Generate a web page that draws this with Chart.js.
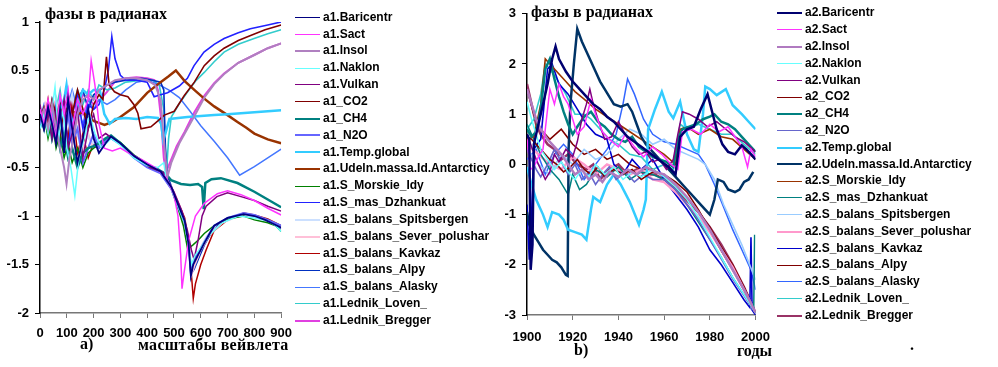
<!DOCTYPE html>
<html>
<head>
<meta charset="utf-8">
<script src="https://cdn.jsdelivr.net/npm/chart.js@4.4.0/dist/chart.umd.min.js"></script>
<style>
body{margin:0;width:998px;height:367px;background:#fff;position:relative;overflow:hidden}
canvas{position:absolute;top:0}
.t{position:absolute;font:bold 16px "Liberation Serif",serif;white-space:nowrap;line-height:16px;color:#000}
.lg{position:absolute;top:0;font:bold 12px "Liberation Sans",Arial,sans-serif;color:#000}
.lg div{position:absolute;left:0;height:14px;line-height:14px;white-space:nowrap}
.lg i{display:inline-block;width:25px;vertical-align:middle;margin-right:3px}
</style>
</head>
<body>
<canvas id="left" width="300" height="367" style="left:0"></canvas>
<canvas id="right" width="290" height="367" style="left:490px"></canvas>
<div class="t" style="left:45px;top:6px">фазы в радианах</div>
<div class="t" style="left:531px;top:4px">фазы в радианах</div>
<div class="t" style="left:80px;top:336px">a)</div>
<div class="t" style="left:138px;top:337px;letter-spacing:0.3px">масштабы вейвлета</div>
<div class="t" style="left:574px;top:342px">b)</div>
<div class="t" style="left:737px;top:343px">годы</div>
<div class="t" style="left:910px;top:337px">.</div>
<div class="lg" id="legL" style="left:295px"></div>
<div class="lg" id="legR" style="left:777px"></div>
<script>
// ---------- left panel: phases vs wavelet scale ----------
var a1Names = ['a1.Baricentr','a1.Sact','a1.Insol','a1.Naklon','a1.Vulkan','a1_CO2','a1_CH4','a1_N2O',
  'a1.Temp.global','a1.Udeln.massa.Id.Antarcticy','a1.S_Morskie_Idy','a1.S_mas_Dzhankuat',
  'a1.S_balans_Spitsbergen','a1.S_balans_Sever_polushar','a1.S_balans_Kavkaz','a1.S_balans_Alpy',
  'a1.S_balans_Alasky','a1.Lednik_Loven_','a1.Lednik_Bregger'];
var a1Colors = ['#000080','#ff33ff','#b080c0','#66ffff','#800080','#800000','#008080','#6666ff',
  '#33ccff','#993300','#008000','#2222ff','#cce0ff','#ffc0d8','#b00000','#0030c0','#4477ff','#33cccc','#e040e0'];
var a1Widths = [1.8,1.5,2,1.5,1.5,1.6,2.5,2,2.5,2.5,1.5,1.6,2,2,1.5,1.6,1.5,1.6,2];

var a1Baricentr = [[0,0.05],[15,-0.1],[30,0.12],[45,-0.05],[60,-0.25],[75,0.1],[90,-0.35],[105,0.2],[120,-0.1],[140,-0.45],[160,-0.2],[180,0.1],[200,-0.2],[220,-0.35],[245,-0.25],[265,-0.18],[300,-0.25],[350,-0.38],[400,-0.47],[450,-0.54],[490,-0.7],[515,-0.88],[540,-1.05],[555,-1.3],[563,-1.62],[572,-1.5],[590,-1.4],[613,-1.28],[650,-1.1],[700,-1.02],[760,-0.98],[800,-1.0],[840,-1.04],[870,-1.08],[900,-1.12]];
var a1Sact = [[0,0.1],[15,-0.05],[30,0.2],[45,0.0],[60,-0.2],[75,0.25],[90,0.05],[105,0.3],[120,-0.1],[140,0.2],[160,0.05],[180,0.2],[191,0.6],[205,0.35],[220,-0.05],[240,-0.3],[270,-0.33],[300,-0.3],[330,-0.35],[380,-0.42],[430,-0.5],[470,-0.6],[500,-0.78],[515,-1.0],[525,-1.4],[530,-1.75],[537,-1.6],[555,-1.25],[580,-1.0],[613,-0.87],[662,-0.77],[700,-0.74],[750,-0.78],[800,-0.84],[850,-0.92],[900,-0.99]];
var a1Insol = [[0,0.0],[15,0.1],[30,-0.1],[45,0.15],[60,-0.1],[75,-0.3],[90,-0.5],[99,-0.67],[110,-0.4],[125,-0.2],[140,0.05],[160,0.2],[180,0.25],[200,0.2],[220,0.3],[250,0.35],[280,0.4],[320,0.42],[360,0.42],[400,0.4],[430,0.35],[450,0.2],[465,-0.3],[475,-0.6],[490,-0.45],[520,-0.25],[550,-0.1],[580,0.05],[613,0.22],[650,0.36],[690,0.47],[740,0.58],[800,0.66],[850,0.73],[900,0.78]];
var a1Naklon = [[0,-0.1],[15,0.05],[30,-0.15],[45,0.1],[56,0.33],[70,-0.2],[85,0.1],[100,-0.3],[115,-0.5],[130,-0.79],[145,-0.4],[165,-0.2],[185,0.05],[205,-0.15],[230,-0.3],[265,-0.2],[300,-0.27],[350,-0.4],[400,-0.48],[440,-0.5],[462,-0.45],[470,-0.6],[490,-0.72],[515,-0.9],[540,-1.07],[557,-1.35],[565,-1.5],[580,-1.4],[600,-1.33],[630,-1.2],[680,-1.07],[740,-1.0],[800,-1.02],[850,-1.05],[880,-1.1],[900,-1.16]];
var a1Vulkan = [[0,0.15],[15,-0.1],[30,0.05],[45,-0.2],[60,0.1],[75,-0.05],[90,0.2],[105,-0.3],[120,-0.15],[140,0.1],[160,-0.4],[180,-0.1],[200,0.05],[220,-0.2],[245,-0.15],[270,-0.2],[310,-0.28],[360,-0.4],[410,-0.5],[460,-0.55],[500,-0.75],[530,-0.95],[550,-1.15],[565,-1.35],[575,-1.45],[590,-1.25],[605,-1.0],[620,-0.9],[660,-0.8],[700,-0.76],[750,-0.8],[800,-0.84],[850,-0.9],[900,-0.95]];
var a1CO2 = [[0,0.0],[15,0.12],[30,-0.05],[45,0.2],[60,0.05],[75,-0.15],[90,0.1],[105,0.25],[120,0.05],[140,0.3],[160,0.1],[180,-0.1],[200,0.15],[220,0.25],[235,0.2],[248,0.64],[258,0.35],[278,0.28],[300,0.25],[328,0.23],[350,0.15],[365,0.06],[377,-0.1],[414,-0.08],[440,-0.02],[464,0.04],[501,0.08],[538,0.24],[576,0.38],[613,0.55],[650,0.65],[687,0.73],[740,0.81],[786,0.86],[840,0.92],[900,0.97]];
var a1CH4 = [[0,0.05],[15,-0.1],[30,0.1],[45,-0.2],[60,-0.05],[75,-0.3],[90,-0.15],[105,-0.4],[120,-0.3],[140,-0.5],[160,-0.35],[180,-0.3],[200,-0.28],[220,-0.25],[245,-0.2],[265,-0.17],[300,-0.25],[350,-0.38],[400,-0.47],[440,-0.52],[470,-0.57],[489,-0.63],[526,-0.67],[560,-0.68],[590,-0.67],[605,-0.7],[611,-0.93],[617,-0.66],[640,-0.62],[675,-0.61],[737,-0.66],[800,-0.75],[850,-0.83],[900,-0.91]];
var a1N2O = [[0,-0.05],[15,0.1],[30,0.0],[45,0.15],[60,-0.15],[75,0.05],[90,-0.2],[105,0.05],[120,-0.25],[140,-0.1],[160,-0.45],[180,-0.3],[200,-0.15],[220,-0.3],[245,-0.22],[265,-0.2],[300,-0.26],[350,-0.4],[400,-0.5],[450,-0.56],[490,-0.72],[515,-0.9],[540,-1.07],[555,-1.3],[562,-1.55],[570,-1.48],[590,-1.38],[613,-1.27],[650,-1.1],[700,-1.02],[760,-0.97],[800,-0.99],[850,-1.04],[900,-1.1]];
var a1Temp = [[0,0.0],[15,0.1],[30,-0.1],[45,0.05],[60,-0.15],[75,0.1],[90,0.2],[99,0.35],[110,0.1],[125,-0.1],[140,0.15],[160,0.3],[180,0.25],[200,0.3],[223,0.3],[240,0.05],[260,-0.05],[280,0.0],[320,0.01],[360,0.0],[400,0.02],[440,0.01],[452,-0.05],[460,-0.22],[468,-0.15],[483,0.0],[550,0.02],[600,0.03],[650,0.04],[700,0.05],[750,0.06],[800,0.07],[850,0.08],[900,0.09]];
var a1Udeln = [[0,0.0],[15,0.05],[30,-0.05],[45,0.1],[60,0.0],[75,0.15],[90,0.05],[105,0.12],[120,0.08],[140,0.05],[160,0.07],[180,0.02],[200,-0.02],[220,-0.04],[241,-0.06],[270,-0.03],[300,0.02],[350,0.12],[400,0.27],[450,0.38],[480,0.44],[507,0.5],[540,0.39],[580,0.29],[613,0.21],[650,0.13],[700,0.04],[737,-0.03],[770,-0.09],[800,-0.15],[850,-0.21],[900,-0.25]];
var a1Morskie = [[0,-0.05],[15,0.05],[30,-0.2],[45,0.0],[60,-0.3],[75,-0.15],[90,-0.4],[105,-0.25],[120,-0.45],[140,-0.3],[160,-0.5],[180,-0.35],[200,-0.3],[220,-0.27],[245,-0.23],[265,-0.18],[300,-0.24],[350,-0.37],[400,-0.46],[450,-0.55],[490,-0.72],[515,-0.92],[535,-1.1],[551,-1.34],[570,-1.3],[590,-1.25],[613,-1.18],[650,-1.1],[700,-1.03],[760,-1.0],[800,-1.04],[850,-1.07],[880,-1.1],[900,-1.16]];
var a1Dzhankuat = [[0,0.05],[15,-0.1],[30,0.1],[45,-0.05],[60,0.15],[75,-0.2],[90,0.1],[105,-0.3],[120,0.05],[140,0.25],[160,-0.1],[180,0.15],[200,0.1],[220,0.15],[240,0.3],[255,0.5],[268,0.85],[280,0.62],[300,0.45],[320,0.4],[360,0.4],[400,0.38],[426,0.23],[450,0.25],[476,0.27],[520,0.34],[550,0.42],[575,0.55],[612,0.69],[650,0.77],[687,0.83],[740,0.89],[785,0.93],[850,0.97],[900,1.0]];
var a1Spitsbergen = [[0,0.1],[20,-0.05],[40,0.15],[60,-0.1],[80,0.2],[100,0.0],[120,0.25],[140,-0.15],[160,0.1],[180,-0.2],[200,-0.25],[230,-0.22],[265,-0.2],[300,-0.26],[350,-0.39],[400,-0.48],[450,-0.55],[490,-0.7],[515,-0.88],[540,-1.05],[556,-1.3],[564,-1.55],[575,-1.45],[595,-1.35],[620,-1.22],[660,-1.08],[710,-1.02],[770,-0.99],[830,-1.03],[900,-1.12]];
var a1Sever = [[0,-0.05],[20,0.15],[40,-0.1],[60,0.2],[80,-0.15],[100,0.1],[120,-0.2],[140,0.0],[160,-0.3],[180,-0.15],[200,-0.3],[230,-0.25],[265,-0.19],[300,-0.26],[350,-0.39],[400,-0.48],[450,-0.55],[490,-0.7],[520,-0.9],[545,-1.15],[558,-1.4],[566,-1.6],[578,-1.5],[600,-1.35],[630,-1.2],[680,-1.07],[740,-1.0],[800,-1.0],[850,-1.05],[900,-1.12]];
var a1Kavkaz = [[0,0.1],[15,-0.05],[30,0.2],[45,-0.1],[60,0.05],[75,-0.25],[90,0.0],[105,-0.2],[120,0.15],[140,-0.35],[160,-0.15],[180,-0.4],[200,-0.25],[220,-0.3],[245,-0.22],[265,-0.19],[300,-0.25],[350,-0.38],[400,-0.47],[450,-0.54],[490,-0.7],[515,-0.86],[540,-1.02],[555,-1.25],[565,-1.6],[572,-1.85],[580,-1.7],[600,-1.5],[620,-1.35],[650,-1.15],[700,-1.04],[760,-0.97],[800,-0.99],[850,-1.03],[900,-1.1]];
var a1Alpy = [[0,-0.1],[15,0.05],[30,-0.15],[45,0.1],[60,-0.1],[75,0.2],[90,-0.05],[105,0.25],[120,0.0],[140,0.2],[160,0.3],[180,0.1],[200,0.25],[225,0.3],[250,0.35],[280,0.38],[320,0.4],[380,0.42],[420,0.4],[450,0.38],[462,0.3],[468,-0.3],[475,-0.58],[495,-0.73],[515,-0.88],[540,-1.05],[556,-1.3],[563,-1.6],[575,-1.55],[590,-1.45],[613,-1.3],[650,-1.12],[700,-1.03],[760,-0.98],[800,-1.0],[850,-1.05],[900,-1.13]];
var a1Alasky = [[0,0.0],[15,0.15],[30,-0.05],[45,0.2],[60,0.0],[75,0.1],[90,-0.2],[105,0.15],[120,0.3],[140,0.1],[160,-0.05],[180,0.2],[200,0.1],[220,0.2],[250,0.15],[280,0.2],[320,0.3],[360,0.38],[400,0.4],[440,0.36],[480,0.3],[520,0.22],[560,0.08],[600,-0.07],[650,-0.23],[700,-0.4],[745,-0.58],[800,-0.49],[850,-0.4],[900,-0.31]];
var a1Loven = [[0,0.05],[15,-0.05],[30,0.15],[45,-0.1],[60,0.1],[75,0.3],[90,0.0],[105,-0.2],[120,0.1],[140,0.3],[160,0.15],[180,0.3],[200,0.2],[220,0.35],[250,0.3],[280,0.32],[320,0.38],[380,0.4],[420,0.4],[445,0.35],[462,0.1],[472,-0.55],[480,-0.2],[490,0.02],[520,0.16],[551,0.28],[580,0.39],[613,0.48],[650,0.59],[687,0.69],[740,0.77],[799,0.83],[850,0.88],[900,0.92]];
var a1Bregger = [[0,-0.05],[15,0.1],[30,-0.1],[45,0.05],[60,0.2],[75,-0.1],[90,0.15],[105,0.0],[120,0.2],[140,0.1],[160,0.25],[180,0.22],[200,0.15],[225,0.2],[250,0.28],[278,0.38],[320,0.42],[360,0.43],[400,0.42],[427,0.4],[440,0.3],[452,0.0],[462,-0.4],[470,-0.55],[485,-0.45],[510,-0.28],[540,-0.13],[576,0.07],[613,0.24],[650,0.37],[687,0.47],[740,0.58],[799,0.66],[850,0.73],[900,0.78]];
var a1Series = [a1Baricentr,a1Sact,a1Insol,a1Naklon,a1Vulkan,a1CO2,a1CH4,a1N2O,a1Temp,a1Udeln,
  a1Morskie,a1Dzhankuat,a1Spitsbergen,a1Sever,a1Kavkaz,a1Alpy,a1Alasky,a1Loven,a1Bregger];

// ---------- right panel: phases vs years ----------
var a2Names = ['a2.Baricentr','a2.Sact','a2.Insol','a2.Naklon','a2.Vulkan','a2_CO2','a2_CH4','a2_N2O',
  'a2.Temp.global','a2.Udeln.massa.Id.Antarcticy','a2.S_Morskie_Idy','a2.S_mas_Dzhankuat',
  'a2.S_balans_Spitsbergen','a2.S_balans_Sever_polushar','a2.S_balans_Kavkaz','a2.S_balans_Alpy',
  'a2.S_balans_Alasky','a2.Lednik_Loven_','a2.Lednik_Bregger'];
var a2Colors = ['#000070','#ff33ff','#b07ac0','#66ffff','#800080','#800000','#008080','#6666cc',
  '#33ccff','#003366','#993300','#008080','#99ccff','#ff99cc','#0000cc','#800000','#3366ff','#33cccc','#993366'];
var a2Widths = [2.5,1.5,2.5,1.5,1.5,1.5,2.5,1.6,2.5,2.5,1.6,1.5,1.6,2.5,1.6,1.6,1.5,1.6,2.5];

var a2Baricentr = [[1900,0.6],[1901,0.5],[1901.6,-2.1],[1902.4,-1.6],[1903,0.4],[1905,0.8],[1907,1.2],[1909,1.6],[1911,2.1],[1912.5,2.35],[1914,2.1],[1917,1.85],[1920,1.65],[1923,1.5],[1926,1.35],[1929,1.2],[1932,1.1],[1935,0.95],[1938,0.85],[1941,0.7],[1944,0.55],[1947,0.45],[1950,0.35],[1953,0.25],[1956,0.15],[1959,0.05],[1962,-0.05],[1965,-0.2],[1967,0.55],[1970,0.7],[1973,0.75],[1976,1.1],[1979,1.4],[1981,1.05],[1983,0.7],[1985.5,0.4],[1988,0.25],[1991,0.2],[1994,0.38],[1996,0.3],[1998.5,0.18],[2000,0.1]];
var a2Sact = [[1900,0.5],[1901.5,-0.1],[1903,-0.05],[1905,0.15],[1907,0.3],[1908.5,0.9],[1910,1.5],[1912,1.2],[1914,1.6],[1916,1.35],[1918,1.2],[1920,0.9],[1922,0.6],[1925,0.75],[1928,1.3],[1930,1.0],[1933,0.65],[1936,0.5],[1940,0.35],[1943,0.6],[1947,0.35],[1951,0.15],[1955,0.35],[1959,0.2],[1963,0.0],[1966,-0.1],[1968,0.65],[1972,0.7],[1976,0.6],[1980,0.8],[1984,0.65],[1988,0.75],[1991,0.55],[1994,0.35],[1996.5,-0.05],[1998,0.3],[2000,0.15]];
var a2Insol = [[1900,1.5],[1902,1.2],[1904,0.9],[1906,0.7],[1909,0.5],[1912,0.35],[1915,0.2],[1918,0.0],[1921,-0.2],[1924,-0.1],[1927,-0.3],[1930,-0.2],[1933,-0.35],[1936,-0.15],[1940,-0.25],[1944,-0.1],[1948,-0.2],[1952,-0.05],[1956,-0.15],[1960,-0.2],[1965,-0.4],[1970,-0.65],[1975,-0.95],[1980,-1.3],[1985,-1.7],[1990,-2.1],[1995,-2.5],[2000,-2.95]];
var a2Naklon = [[1900,1.25],[1902,0.9],[1904,0.6],[1906,0.3],[1909,0.1],[1912,-0.1],[1915,0.05],[1918,-0.15],[1921,-0.3],[1924,-0.1],[1927,-0.25],[1930,0.0],[1934,-0.2],[1938,-0.05],[1942,-0.3],[1946,-0.15],[1950,-0.25],[1955,-0.1],[1960,-0.25],[1965,-0.45],[1970,-0.7],[1975,-1.05],[1980,-1.45],[1985,-1.85],[1990,-2.25],[1995,-2.6],[2000,-2.95]];
var a2Vulkan = [[1900,0.6],[1902,0.35],[1904,0.1],[1906,-0.1],[1908,-0.3],[1910,-0.15],[1912,0.2],[1914,0.05],[1917,0.3],[1920,0.15],[1922,0.45],[1924,0.9],[1926,1.2],[1927.5,1.5],[1929,1.2],[1931,0.9],[1934,0.5],[1937,0.55],[1940,0.85],[1943,0.6],[1946,0.35],[1949,0.2],[1952,0.25],[1955,0.05],[1958,0.1],[1961,-0.1],[1964,0.1],[1966,0.6],[1968,1.05],[1971,1.0],[1975,0.9],[1979,0.75],[1983,0.85],[1987,0.7],[1991,0.55],[1995,0.45],[2000,0.25]];
var a2CO2 = [[1900,0.55],[1902,0.5],[1904,0.4],[1907,0.25],[1910,0.1],[1913,0.0],[1916,-0.15],[1919,-0.05],[1922,0.1],[1925,-0.1],[1928,-0.2],[1931,-0.05],[1934,-0.25],[1938,-0.1],[1942,-0.2],[1946,-0.1],[1950,-0.3],[1955,-0.15],[1960,-0.2],[1965,-0.35],[1970,-0.55],[1975,-0.9],[1980,-1.3],[1985,-1.72],[1990,-2.1],[1995,-2.5],[2000,-2.95]];
var a2CH4 = [[1900,0.7],[1902,0.55],[1904,0.65],[1906,1.1],[1908,1.9],[1910,2.1],[1912,1.7],[1914,1.35],[1916,1.05],[1918,0.8],[1920,0.6],[1922,0.75],[1925,0.95],[1928,1.05],[1931,0.85],[1934,0.75],[1937,0.6],[1940,0.5],[1943,0.45],[1946,0.55],[1949,0.35],[1952,0.25],[1955,0.15],[1958,0.1],[1961,0.05],[1964,-0.05],[1966,0.5],[1968,0.7],[1971,0.75],[1974,0.8],[1977,0.9],[1980,0.95],[1982,1.0],[1985,0.85],[1988,0.8],[1991,0.7],[1994,0.55],[1997,0.4],[2000,0.25]];
var a2N2O = [[1900,0.3],[1902,0.1],[1904,-0.1],[1906,-0.25],[1909,0.0],[1912,0.3],[1915,0.05],[1918,-0.2],[1921,0.0],[1924,-0.3],[1927,-0.15],[1930,-0.4],[1933,-0.2],[1936,-0.05],[1939,-0.3],[1943,-0.15],[1947,-0.35],[1951,-0.2],[1955,-0.3],[1960,-0.3],[1965,-0.5],[1970,-0.8],[1975,-1.1],[1980,-1.5],[1985,-1.88],[1990,-2.28],[1995,-2.62],[2000,-2.97]];
var a2Temp = [[1900,-0.05],[1902,-0.4],[1904,-0.7],[1907,-1.0],[1909,-1.25],[1911,-0.95],[1914,-1.0],[1916,-1.1],[1918,-1.3],[1921,-1.35],[1924,-1.4],[1926,-1.5],[1928,-0.9],[1929,-0.65],[1932,-0.75],[1935,-0.4],[1938,-0.2],[1941,-0.4],[1945,-0.75],[1949,-1.2],[1951,-0.9],[1952,-0.7],[1953,0.7],[1956,1.1],[1959,1.45],[1962,1.05],[1964,0.92],[1967,1.25],[1970,0.6],[1973,0.3],[1975,0.25],[1977,1.0],[1978,1.55],[1980,1.5],[1983,1.38],[1987,1.5],[1990,1.18],[1994,1.0],[1997,0.85],[2000,0.7]];
var a2Udeln = [[1900,-0.95],[1901,-1.2],[1903,-1.4],[1905,-1.55],[1907,-1.7],[1909,-1.8],[1911,-1.9],[1913,-1.95],[1915,-2.05],[1917,-2.2],[1917.8,-2.22],[1918.2,0.3],[1919,1.2],[1920.5,2.0],[1922,2.7],[1924,2.45],[1926,2.25],[1928,2.05],[1930,1.85],[1932,1.65],[1934,1.5],[1936,1.35],[1938,1.2],[1941,1.15],[1944,1.2],[1946,1.05],[1948,0.8],[1950,0.55],[1952,0.4],[1954,0.3],[1957,0.15],[1960,0.0],[1963,-0.15],[1966,-0.3],[1969,-0.45],[1972,-0.6],[1975,-0.75],[1978,-0.9],[1980,-1.0],[1982,-0.7],[1983.5,-0.3],[1986,-0.35],[1988,-0.5],[1991,-0.55],[1993,-0.5],[1995,-0.35],[1997,-0.3],[1999,-0.15]];
var a2Morskie = [[1900,0.5],[1903,0.55],[1906,1.2],[1908,2.1],[1910,2.0],[1913,1.85],[1917,1.65],[1921,1.45],[1925,1.3],[1930,1.1],[1935,0.95],[1940,0.8],[1945,0.65],[1950,0.5],[1955,0.35],[1960,0.2],[1965,0.0],[1967,0.7],[1970,0.75],[1975,0.6],[1980,0.7],[1985,0.55],[1990,0.5],[1995,0.3],[2000,0.1]];
var a2Dzhankuat = [[1900,0.8],[1903,0.5],[1906,0.2],[1910,-0.1],[1914,-0.3],[1918,-0.6],[1920,-0.2],[1923,-0.5],[1926,-0.4],[1930,-0.1],[1935,-0.25],[1940,-0.05],[1945,-0.3],[1950,-0.15],[1955,-0.2],[1960,-0.3],[1965,-0.5],[1970,-0.8],[1975,-1.15],[1980,-1.5],[1985,-1.85],[1990,-2.25],[1995,-2.6],[1999.2,-2.9],[1999.6,-1.4]];
var a2Spitsbergen = [[1900,0.3],[1905,0.0],[1910,-0.2],[1915,0.2],[1920,0.0],[1925,0.3],[1930,0.1],[1935,0.2],[1940,0.5],[1945,0.7],[1950,0.6],[1955,0.4],[1960,0.5],[1965,0.3],[1970,0.2],[1975,0.1],[1978,0.0],[1982,-0.3],[1986,-0.8],[1990,-1.2],[1994,-1.6],[1997,-1.95],[2000,-2.3]];
var a2Sever = [[1900,0.4],[1905,0.2],[1910,0.0],[1915,-0.1],[1920,0.15],[1925,0.0],[1930,-0.2],[1935,0.0],[1940,-0.1],[1945,-0.2],[1950,-0.1],[1955,-0.3],[1960,-0.35],[1965,-0.55],[1970,-0.8],[1975,-1.05],[1980,-1.35],[1985,-1.7],[1990,-2.05],[1995,-2.5],[2000,-2.95]];
var a2Kavkaz = [[1900,-0.8],[1901,-1.9],[1902,-1.0],[1903,0.3],[1906,0.5],[1909,1.9],[1911,2.0],[1914,1.6],[1918,1.4],[1922,1.1],[1926,0.8],[1930,0.6],[1935,0.5],[1938,0.0],[1942,-0.2],[1946,0.1],[1950,-0.1],[1955,0.1],[1960,-0.3],[1965,-0.6],[1970,-0.9],[1975,-1.25],[1980,-1.7],[1985,-2.0],[1990,-2.35],[1995,-2.7],[1997.5,-2.85],[1998,-1.45],[1998.5,-2.9],[2000,-3.0]];
var a2Alpy = [[1900,1.5],[1903,1.0],[1906,0.7],[1910,0.5],[1915,0.7],[1920,0.4],[1925,0.2],[1930,0.3],[1935,0.1],[1940,0.2],[1945,0.0],[1950,-0.1],[1955,-0.1],[1960,-0.25],[1965,-0.45],[1970,-0.7],[1975,-0.95],[1980,-1.25],[1985,-1.65],[1990,-2.0],[1995,-2.45],[2000,-2.95]];
var a2Alasky = [[1900,0.1],[1904,0.3],[1908,-0.2],[1912,0.2],[1916,0.4],[1920,0.2],[1925,-0.3],[1930,0.0],[1935,0.3],[1939,0.6],[1942,1.2],[1944,1.7],[1947,1.4],[1951,0.9],[1955,0.6],[1960,0.45],[1965,0.4],[1970,0.3],[1975,0.2],[1978,0.0],[1982,-0.4],[1986,-0.85],[1990,-1.3],[1994,-1.7],[1998,-2.1],[2000,-2.5]];
var a2Loven = [[1900,0.7],[1903,0.9],[1906,1.4],[1908,2.0],[1910,1.9],[1913,1.7],[1917,1.4],[1921,1.0],[1925,1.0],[1928,0.9],[1932,0.7],[1936,0.5],[1940,0.4],[1945,0.2],[1950,0.15],[1955,-0.1],[1960,0.0],[1964,-0.1],[1967,0.8],[1970,0.7],[1975,0.8],[1980,0.7],[1985,0.6],[1990,0.6],[1995,0.4],[2000,0.2]];
var a2Bregger = [[1900,1.6],[1902,1.2],[1904,0.8],[1906,0.6],[1909,0.4],[1912,0.3],[1915,0.1],[1918,0.2],[1922,0.0],[1926,-0.1],[1929,0.0],[1932,-0.3],[1936,-0.1],[1940,0.0],[1944,-0.2],[1948,-0.1],[1952,-0.2],[1956,-0.2],[1960,-0.3],[1965,-0.5],[1970,-0.72],[1975,-0.95],[1980,-1.25],[1985,-1.6],[1990,-2.0],[1995,-2.45],[2000,-2.95]];
var a2Series = [a2Baricentr,a2Sact,a2Insol,a2Naklon,a2Vulkan,a2CO2,a2CH4,a2N2O,a2Temp,a2Udeln,
  a2Morskie,a2Dzhankuat,a2Spitsbergen,a2Sever,a2Kavkaz,a2Alpy,a2Alasky,a2Loven,a2Bregger];

var tickFont = {family: '"Liberation Sans", Arial, sans-serif', size: 13, weight: 'bold'};
function plain(v) { return String(v); }

function makeChart(id, series, names, colors, widths, xr, yr, yWidth, xPad, pad) {
  var datasets = series.map(function (s, i) {
    return {
      label: names[i],
      data: s,
      borderColor: colors[i],
      borderWidth: widths[i],
      pointRadius: 0,
      fill: false,
      lineTension: 0
    };
  });
  return new Chart(document.getElementById(id), {
    type: 'line',
    data: {datasets: datasets},
    options: {
      responsive: false,
      animation: false,
      devicePixelRatio: 1,
      layout: {padding: pad},
      plugins: {legend: {display: false}, tooltip: {enabled: false}},
      scales: {
        x: {
          type: 'linear', min: xr[0], max: xr[1],
          grid: {drawOnChartArea: false, tickLength: 5, color: '#777'},
          border: {color: '#777', width: 1.5},
          ticks: {stepSize: xr[2], color: '#000', font: tickFont, padding: xPad, maxRotation: 0, callback: plain},
          afterFit: function (s) { s.height = 30; }
        },
        y: {
          min: yr[0], max: yr[1],
          grid: {drawOnChartArea: false, tickLength: 5, color: '#000'},
          border: {color: '#000', width: 1.5},
          ticks: {stepSize: yr[2], color: '#000', font: tickFont, padding: 6, callback: plain},
          afterFit: function (s) { s.width = yWidth; }
        }
      }
    }
  });
}

makeChart('left', a1Series, a1Names, a1Colors, a1Widths, [0, 900, 100], [-2, 1, 0.5], 40, 8,
  {left: 0, right: 18, top: 22, bottom: 24});
makeChart('right', a2Series, a2Names, a2Colors, a2Widths, [1900, 2000, 20], [-3, 3, 1], 37, 10,
  {left: 0, right: 23, top: 13, bottom: 22});

function makeLegend(id, names, colors, widths, y0, step) {
  var box = document.getElementById(id);
  names.forEach(function (n, i) {
    var row = document.createElement('div');
    row.style.top = (y0 + i * step - 7) + 'px';
    var sw = document.createElement('i');
    sw.style.borderTop = Math.max(1.5, widths[i]) + 'px solid ' + colors[i];
    row.appendChild(sw);
    row.appendChild(document.createTextNode(n));
    box.appendChild(row);
  });
}
makeLegend('legL', a1Names, a1Colors, a1Widths, 16.7, 16.85);
makeLegend('legR', a2Names, a2Colors, a2Widths, 12.3, 16.8);
</script>
</body>
</html>
